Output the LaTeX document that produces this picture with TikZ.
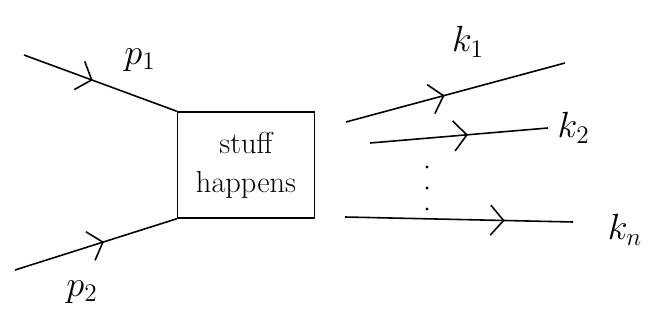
\documentclass[tikz,border=0pt]{standalone}
\usepackage{amsmath}
\usepackage{tikz}
\usetikzlibrary{arrows.meta, decorations.markings, positioning}

\begin{document}
\begin{tikzpicture}[
      x=0.02cm, y=-0.02cm,
      blob/.style={draw, line width=0.9pt, minimum width=2.74cm, minimum height=2.12cm, align=center, font=\LARGE},
      particle/.style={line width=0.9pt, postaction={decorate},
        decoration={markings, mark=at position #1 with {\arrow{Straight Barb[length=2.6mm, width=6mm, line width=0.9pt]}}}},
      particle/.default=0.45,
      mom/.style={font=\huge}
    ]
      \useasboundingbox (0,0) rectangle (659,327);

      % the interaction
      \node[blob] (stuff) at (246,165) {stuff\\happens};

      % incoming
      \coordinate (p1in) at (24,55);
      \coordinate (p2in) at (15,270);
      \draw[particle=0.45] (p1in) -- (stuff.north west);
      \draw[particle=0.55] (p2in) -- (stuff.south west);
      \node[mom] (p1) at (140,60) {$p_1$};
      \node[mom] (p2) at (82,292) {$p_2$};

      % outgoing
      \coordinate (k1in) at (346,122);
      \coordinate (k1out) at (565,63);
      \coordinate (k2in) at (370,143);
      \coordinate (k2out) at (548,128);
      \coordinate (knin) at (345,217);
      \coordinate (knout) at (573,222);
      \draw[particle=0.45] (k1in) -- (k1out);
      \draw[particle=0.55] (k2in) -- (k2out);
      \draw[particle=0.7] (knin) -- (knout);
      \node[mom] (k1) at (468,42) {$k_1$};
      \node[mom, right=2pt of k2out] (k2) {$k_2$};
      \node[mom] (kn) at (625,230) {$k_n$};

      % more particles
      \foreach \y in {167,188,209}
        \fill (427,\y) circle (1.6);
    \end{tikzpicture}
\end{document}
